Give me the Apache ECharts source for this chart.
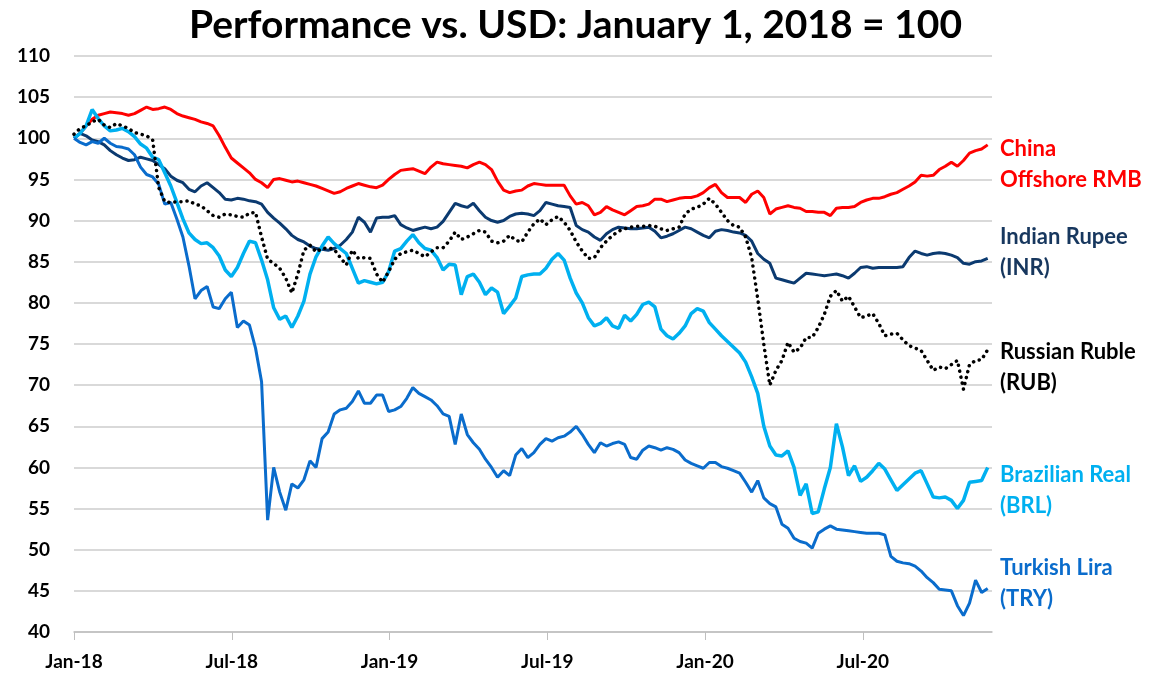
<!DOCTYPE html>
<html>
<head>
<meta charset="utf-8">
<script src="https://cdn.jsdelivr.net/npm/echarts@6/dist/echarts.min.js"></script>
<style>
  html, body { margin: 0; padding: 0; background: #fff; }
  #chart { width: 1151px; height: 678px; }
</style>
</head>
<body>
<div id="chart"></div>
<script>
// weekly readings, Jan 1 2018 = 100 (week 0), one value per week
var dayStep = 7;
var xLabels = ['Jan-18', 'Jul-18', 'Jan-19', 'Jul-19', 'Jan-20', 'Jul-20'];

var rmb = [
  100.0,100.6,101.5,102.3,102.8,103.0,103.2,103.1,103.0,102.8,
  103.0,103.4,103.8,103.5,103.6,103.8,103.5,103.0,102.7,102.5,
  102.3,102.0,101.8,101.5,100.3,98.9,97.6,97.0,96.4,95.8,
  95.0,94.6,94.0,95.0,95.1,94.9,94.7,94.8,94.6,94.4,
  94.2,93.9,93.6,93.3,93.5,93.9,94.2,94.5,94.3,94.1,
  94.0,94.3,95.0,95.6,96.1,96.2,96.3,96.0,95.7,96.5,
  97.1,96.9,96.8,96.7,96.6,96.4,96.8,97.1,96.8,96.2,
  94.8,93.7,93.4,93.6,93.7,94.2,94.5,94.4,94.3,94.3,
  94.3,94.3,93.0,92.0,92.2,91.8,90.7,91.0,91.7,91.3,
  91.0,90.7,91.2,91.7,91.8,92.0,92.6,92.6,92.3,92.5,
  92.7,92.8,92.8,93.0,93.4,94.0,94.4,93.4,92.8,92.8,
  92.8,92.2,93.2,93.6,92.8,90.8,91.4,91.6,91.8,91.6,
  91.5,91.1,91.1,91.0,91.0,90.6,91.5,91.6,91.6,91.7,
  92.2,92.5,92.7,92.7,92.9,93.2,93.4,93.8,94.2,94.7,
  95.5,95.4,95.5,96.2,96.6,97.1,96.6,97.3,98.2,98.5,
  98.7,99.2
];

var inr = [
  100.0,100.6,100.3,99.8,99.6,99.2,98.5,98.0,97.6,97.3,
  97.4,97.7,97.5,97.3,96.8,96.3,95.4,94.9,94.6,93.8,
  93.5,94.2,94.6,94.0,93.4,92.6,92.5,92.7,92.6,92.4,
  92.3,92.0,91.0,90.3,89.7,89.0,88.2,87.7,87.4,86.9,
  86.6,86.5,86.4,86.6,87.0,87.7,88.6,90.4,89.8,88.6,
  90.3,90.4,90.4,90.6,89.5,89.1,88.8,89.0,89.2,89.0,
  89.2,89.9,91.0,92.1,91.8,91.6,92.1,91.2,90.4,90.0,
  89.8,90.0,90.5,90.8,90.9,90.8,90.6,91.2,92.2,92.0,
  91.8,91.7,91.6,89.4,88.9,88.6,88.0,87.6,88.4,88.9,
  89.2,89.1,89.0,89.0,89.1,89.2,88.7,87.9,88.1,88.4,
  88.8,89.2,89.0,88.6,88.2,87.9,88.7,88.9,88.8,88.6,
  88.5,88.2,87.5,86.0,85.3,84.8,83.0,82.8,82.6,82.4,
  83.0,83.6,83.5,83.4,83.3,83.4,83.5,83.3,83.0,83.6,
  84.3,84.4,84.2,84.3,84.3,84.3,84.3,84.4,85.5,86.3,
  86.0,85.8,86.0,86.1,86.0,85.8,85.5,84.8,84.7,85.0,
  85.1,85.4
];

var rub = [
  100.5,101.2,101.5,102.0,102.3,101.6,101.3,101.8,101.5,101.2,
  100.7,100.5,100.3,99.8,94.0,92.3,92.2,92.3,92.3,92.4,
  92.0,91.8,91.2,90.6,90.4,90.8,90.7,90.5,90.4,90.9,
  91.0,88.0,85.3,84.8,84.2,83.0,81.2,83.5,86.4,87.0,
  86.2,86.6,86.7,86.5,85.5,84.6,86.4,85.4,85.5,85.4,
  83.5,82.5,83.8,85.3,86.0,86.2,86.4,86.0,85.6,86.2,
  86.7,86.7,87.5,88.6,87.7,88.0,88.4,88.8,88.6,87.5,
  87.3,87.5,88.2,87.6,87.4,88.6,89.6,90.2,89.5,90.1,
  90.5,89.8,88.8,87.4,86.3,85.4,85.5,86.7,87.5,88.2,
  88.7,89.0,89.2,89.3,89.3,89.4,89.3,89.0,88.8,89.0,
  89.2,90.8,91.4,91.6,92.0,92.7,92.0,91.0,90.0,89.4,
  89.2,88.0,85.5,80.5,75.0,70.0,71.8,73.0,75.2,74.0,
  74.5,75.8,75.8,77.0,78.6,80.8,81.5,80.2,80.8,79.5,
  78.2,78.4,78.7,77.5,76.0,76.2,76.3,75.5,74.8,74.5,
  74.2,73.0,71.8,72.2,72.0,72.5,73.0,69.5,72.5,73.0,
  73.1,74.3
];

var brl = [
  100.0,100.6,101.5,103.5,102.4,101.5,100.9,101.0,101.2,100.8,
  100.2,99.3,98.8,97.7,97.4,95.8,94.2,92.2,90.2,88.5,
  87.7,87.2,87.3,86.7,85.7,84.0,83.2,84.3,86.0,87.5,
  87.3,85.2,82.8,79.4,78.0,78.4,77.0,78.4,80.2,83.5,
  85.6,86.9,88.0,87.2,86.6,86.0,84.2,82.4,82.7,82.5,
  82.3,82.5,83.8,86.3,86.6,87.5,88.3,87.3,86.6,86.4,
  85.5,84.0,84.7,84.6,81.0,83.2,83.5,82.5,81.0,81.8,
  81.3,78.7,79.6,80.6,83.2,83.4,83.5,83.5,84.2,85.3,
  86.0,85.2,83.0,81.2,80.0,78.2,77.2,77.5,78.2,77.2,
  76.9,78.5,77.8,78.6,79.8,80.1,79.5,76.8,76.0,75.6,
  76.3,77.2,78.7,79.3,79.0,77.6,76.8,76.0,75.3,74.6,
  73.9,72.8,71.0,69.0,65.0,62.6,61.5,61.4,62.0,60.0,
  56.6,58.0,54.4,54.6,57.4,60.0,65.3,62.5,59.0,60.2,
  58.3,58.8,59.6,60.5,59.8,58.5,57.2,57.9,58.6,59.3,
  59.6,58.0,56.4,56.3,56.4,56.0,55.0,56.0,58.2,58.3,
  58.4,60.0
];

var tryLira = [
  100.0,99.5,99.2,99.6,99.4,100.0,99.4,99.0,98.9,98.7,
  98.0,96.5,95.6,95.3,94.4,92.0,92.2,90.2,88.0,84.5,
  80.5,81.5,82.0,79.5,79.3,80.5,81.3,77.0,77.8,77.3,
  74.5,70.4,53.6,60.0,57.0,54.8,58.0,57.5,58.5,60.8,
  60.0,63.5,64.3,66.5,67.0,67.2,68.0,69.3,67.8,67.8,
  68.8,68.8,66.8,67.0,67.4,68.4,69.7,69.0,68.6,68.2,
  67.5,66.5,66.2,62.8,66.5,64.0,63.0,62.2,61.0,60.0,
  58.8,59.6,59.0,61.5,62.3,61.2,61.8,62.8,63.5,63.2,
  63.6,63.8,64.3,65.0,64.0,62.8,61.8,63.0,62.6,62.9,
  63.1,62.8,61.2,61.0,62.1,62.6,62.4,62.1,62.4,62.2,
  61.8,60.9,60.5,60.2,59.9,60.6,60.6,60.1,59.9,59.6,
  59.3,58.2,57.0,58.4,56.3,55.6,55.2,53.1,52.6,51.4,
  51.0,50.8,50.2,52.0,52.5,52.9,52.5,52.4,52.3,52.2,
  52.1,52.0,52.0,52.0,51.8,49.2,48.6,48.4,48.3,48.0,
  47.4,46.6,46.0,45.2,45.1,45.0,43.2,42.0,43.5,46.3,
  44.8,45.3
];

function toPoints(arr) {
  return arr.map(function (v, i) { return [i * dayStep, v]; });
}

var font = 'Lato';
var labelFont = 'bold 22px Lato';

var myChart = echarts.init(document.getElementById('chart'));

var option = {
  backgroundColor: '#fff',
  animation: false,
  title: {
    text: 'Performance vs. USD: January 1, 2018 = 100',
    left: 'center',
    top: 1,
    textStyle: { fontFamily: font, fontWeight: 'bold', fontSize: 39, color: '#000' }
  },
  grid: { left: 74, right: 159, top: 56, bottom: 46 },
  xAxis: {
    type: 'value',
    min: 0,
    max: 1062,
    interval: 182.5,
    axisLine: { lineStyle: { color: '#bfbfbf', width: 1.5 } },
    axisTick: { show: true, length: 8, lineStyle: { color: '#bfbfbf' } },
    splitLine: { show: false },
    axisLabel: {
      showMaxLabel: false,
      margin: 20,
      fontFamily: font, fontWeight: 'bold', fontSize: 19, color: '#000',
      formatter: function (v) { return xLabels[Math.round(v / 182.5)] || ''; }
    }
  },
  yAxis: {
    type: 'value',
    min: 40,
    max: 110,
    interval: 5,
    axisLine: { show: false },
    axisTick: { show: false },
    splitLine: { lineStyle: { color: '#d9d9d9', width: 2 } },
    axisLabel: { margin: 24, fontFamily: font, fontWeight: 'bold', fontSize: 19, color: '#000' }
  },
  series: [
    { name: 'China Offshore RMB', type: 'line', symbol: 'none', data: toPoints(rmb),
      lineStyle: { color: '#ff0000', width: 3 } },
    { name: 'Indian Rupee (INR)', type: 'line', symbol: 'none', data: toPoints(inr),
      lineStyle: { color: '#0b3a70', width: 3 } },
    { name: 'Brazilian Real (BRL)', type: 'line', symbol: 'none', data: toPoints(brl),
      lineStyle: { color: '#00b0f0', width: 3.5 } },
    { name: 'Turkish Lira (TRY)', type: 'line', symbol: 'none', data: toPoints(tryLira),
      lineStyle: { color: '#0a6ccc', width: 3 } },
    { name: 'Russian Ruble (RUB)', type: 'line', symbol: 'none', data: toPoints(rub),
      lineStyle: { color: '#000', width: 3.5, type: [0.1, 6], cap: 'round' } }
  ],
  graphic: [
    { type: 'text', left: 1000, top: 133,
      style: { text: 'China\nOffshore RMB', fill: '#ff0000', font: labelFont, lineHeight: 31 } },
    { type: 'text', left: 1000, top: 221,
      style: { text: 'Indian Rupee\n(INR)', fill: '#17375e', font: labelFont, lineHeight: 31 } },
    { type: 'text', left: 1000, top: 336,
      style: { text: 'Russian Ruble\n(RUB)', fill: '#000', font: labelFont, lineHeight: 31 } },
    { type: 'text', left: 1000, top: 459,
      style: { text: 'Brazilian Real\n(BRL)', fill: '#00b0f0', font: labelFont, lineHeight: 31 } },
    { type: 'text', left: 1000, top: 552,
      style: { text: 'Turkish Lira\n(TRY)', fill: '#0a6ccc', font: labelFont, lineHeight: 31 } }
  ]
};

myChart.setOption(option);
</script>
</body>
</html>
